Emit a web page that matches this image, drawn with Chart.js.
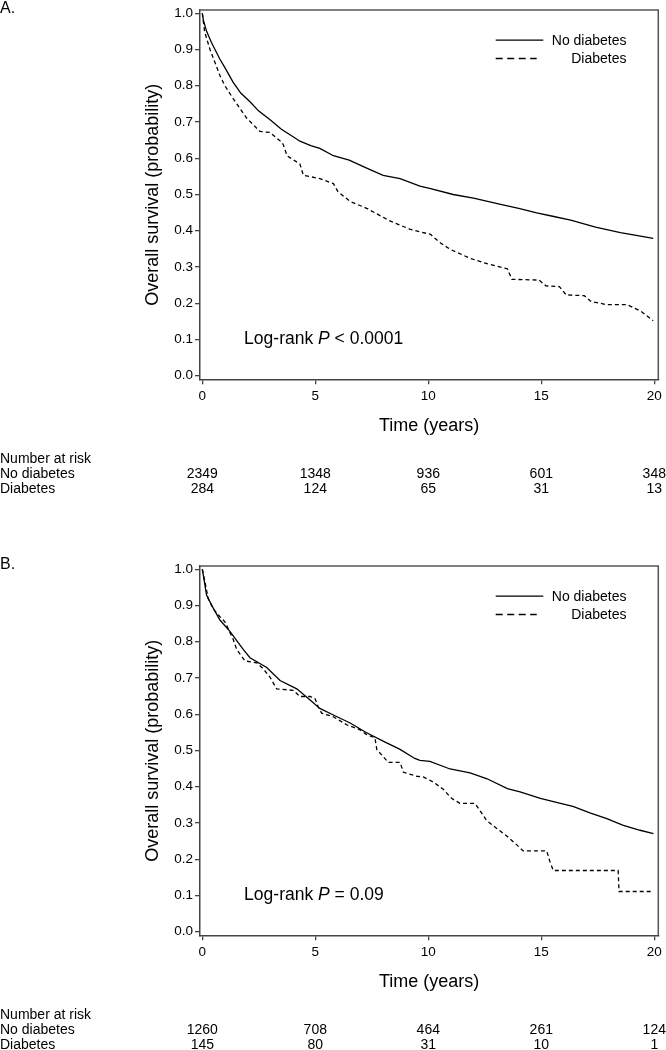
<!DOCTYPE html>
<html>
<head>
<meta charset="utf-8">
<script src="https://cdn.jsdelivr.net/npm/chart.js@4/dist/chart.umd.min.js"></script>
<style>
  html, body { margin: 0; padding: 0; background: #fff; }
  canvas { display: block; }
</style>
</head>
<body>
<canvas id="chartA" width="666" height="556"></canvas>
<canvas id="chartB" width="666" height="494"></canvas>
<script>
// axis ticks
const xTicks = [0, 5, 10, 15, 20];
const yTicks = [0, 0.1, 0.2, 0.3, 0.4, 0.5, 0.6, 0.7, 0.8, 0.9, 1.0];
const groups = ['No diabetes', 'Diabetes'];

// panel A curves
const timeNoDiabA = [0, 0.05, 0.19, 0.4, 0.78, 1.0, 1.36, 1.7, 2.11, 2.5, 3.0, 3.5, 4.0, 4.32, 4.8, 5.2, 5.8, 6.5, 7.2, 8.0, 8.75, 9.63, 10.1, 11.1, 12.0, 13.2, 14.0, 14.8, 15.5, 16.3, 17.4, 18.5, 19.2, 19.95];
const survNoDiabA = [1.0, 0.98, 0.95, 0.92, 0.873, 0.85, 0.81, 0.78, 0.756, 0.73, 0.706, 0.68, 0.66, 0.647, 0.635, 0.627, 0.607, 0.595, 0.575, 0.553, 0.544, 0.523, 0.516, 0.5, 0.49, 0.473, 0.462, 0.449, 0.44, 0.429, 0.41, 0.395, 0.387, 0.379];
const timeDiabA = [0, 0.1, 0.34, 0.78, 1.0, 1.36, 1.96, 2.55, 3.0, 3.5, 3.58, 3.75, 4.32, 4.47, 5.2, 5.8, 6.0, 6.54, 7.27, 8.3, 9.2, 10.1, 10.5, 10.96, 11.85, 12.6, 13.5, 13.7, 14.9, 15.2, 15.8, 16.1, 16.9, 17.2, 17.9, 18.8, 19.4, 19.95];
const survDiabA = [1.0, 0.95, 0.9, 0.828, 0.8, 0.765, 0.711, 0.674, 0.671, 0.645, 0.638, 0.607, 0.584, 0.553, 0.544, 0.53, 0.508, 0.481, 0.462, 0.427, 0.404, 0.39, 0.368, 0.349, 0.324, 0.309, 0.295, 0.266, 0.264, 0.248, 0.246, 0.223, 0.221, 0.205, 0.196, 0.196, 0.178, 0.152];

// panel B curves
const timeNoDiabB = [0, 0.05, 0.19, 0.49, 0.78, 1.23, 1.81, 2.11, 2.85, 3.44, 4.18, 4.77, 5.2, 5.8, 6.54, 7.27, 8.0, 8.75, 9.4, 9.63, 10.07, 10.96, 11.85, 12.6, 13.5, 14.06, 14.96, 15.85, 16.4, 17.15, 17.9, 18.6, 19.37, 19.96];
const survNoDiabB = [1.0, 0.982, 0.928, 0.892, 0.86, 0.828, 0.779, 0.756, 0.729, 0.693, 0.67, 0.639, 0.616, 0.598, 0.576, 0.549, 0.526, 0.503, 0.478, 0.473, 0.47, 0.449, 0.438, 0.422, 0.395, 0.386, 0.368, 0.354, 0.346, 0.328, 0.312, 0.294, 0.28, 0.271];
const timeDiabB = [0, 0.12, 0.26, 0.49, 0.78, 1.0, 1.37, 1.52, 1.89, 2.41, 2.7, 3.0, 3.29, 4.03, 4.32, 4.77, 4.99, 5.13, 5.28, 5.8, 6.39, 6.98, 7.27, 7.64, 7.72, 8.23, 8.75, 8.9, 9.49, 9.78, 10.22, 10.66, 11.03, 11.4, 12.07, 12.29, 12.58, 13.03, 13.47, 13.84, 14.2, 15.24, 15.38, 15.53, 18.4, 18.44, 19.96];
const survDiabB = [1.0, 0.964, 0.919, 0.89, 0.869, 0.855, 0.806, 0.779, 0.747, 0.742, 0.725, 0.702, 0.67, 0.666, 0.649, 0.649, 0.643, 0.62, 0.603, 0.593, 0.571, 0.557, 0.544, 0.535, 0.503, 0.467, 0.467, 0.44, 0.429, 0.427, 0.413, 0.393, 0.368, 0.354, 0.354, 0.334, 0.307, 0.285, 0.264, 0.244, 0.223, 0.223, 0.194, 0.169, 0.169, 0.111, 0.111];

// number at risk
const riskNoDiabA = [2349, 1348, 936, 601, 348];
const riskDiabA = [284, 124, 65, 31, 13];
const riskNoDiabB = [1260, 708, 464, 261, 124];
const riskDiabB = [145, 80, 31, 10, 1];

const logrankA = '< 0.0001';
const logrankB = '= 0.09';

const FONT = "'Liberation Sans', Arial, sans-serif";
Chart.defaults.font.family = FONT;
Chart.defaults.color = '#000';

function toPoints(t, s) {
    return t.map((v, i) => ({ x: v, y: s[i] }));
}

// legend, box, p-value text, risk table
const decor = {
    id: 'decor',
    afterDraw(chart, args, opts) {
        const ctx = chart.ctx;
        const a = chart.chartArea;
        const xs = chart.scales.x, ys = chart.scales.y;
        ctx.save();

        // top and right frame
        ctx.strokeStyle = '#555';
        ctx.lineWidth = 1.5;
        ctx.beginPath();
        ctx.moveTo(a.left, a.top);
        ctx.lineTo(a.right, a.top);
        ctx.lineTo(a.right, a.bottom);
        ctx.stroke();

        // panel label
        ctx.fillStyle = '#000';
        ctx.font = '16px ' + FONT;
        ctx.textAlign = 'left';
        ctx.textBaseline = 'middle';
        ctx.fillText(opts.panel, 0, 9);

        // legend
        ctx.font = '14px ' + FONT;
        ctx.textAlign = 'right';
        chart.data.datasets.forEach((ds, i) => {
            const y = a.top + 30 + i * 18.4;
            ctx.strokeStyle = '#000';
            ctx.lineWidth = 1.3;
            ctx.setLineDash(i === 0 ? [] : [7, 4.5]);
            ctx.beginPath();
            ctx.moveTo(495.7, y);
            ctx.lineTo(i === 0 ? 543.3 : 536.7, y);
            ctx.stroke();
            ctx.setLineDash([]);
            ctx.fillText(ds.label, a.right - 31.8, y + 1);
        });

        // log-rank text
        let tx = xs.getPixelForValue(1.85);
        const ty = ys.getPixelForValue(0.1);
        ctx.textAlign = 'left';
        const parts = [['Log-rank ', ''], ['P', 'italic '], [' ' + opts.pText, '']];
        parts.forEach(p => {
            ctx.font = p[1] + '17.5px ' + FONT;
            ctx.fillText(p[0], tx, ty);
            tx += ctx.measureText(p[0]).width;
        });

        // number at risk
        ctx.font = '14px ' + FONT;
        const r0 = a.bottom + 80;
        ctx.textAlign = 'left';
        ctx.fillText('Number at risk', 0, r0);
        ctx.fillText(groups[0], 0, r0 + 14.5);
        ctx.fillText(groups[1], 0, r0 + 30);
        ctx.textAlign = 'center';
        xTicks.forEach((t, i) => {
            const px = xs.getPixelForValue(t);
            ctx.fillText(String(opts.riskNo[i]), px, r0 + 14.5);
            ctx.fillText(String(opts.riskDi[i]), px, r0 + 30);
        });
        ctx.restore();
    }
};

function makeChart(id, panel, tNo, sNo, tDi, sDi, riskNo, riskDi, pText) {
    const canvas = document.getElementById(id);
    const padBottom = canvas.height - 379.3 - 60;
    return new Chart(canvas.getContext('2d'), {
        type: 'line',
        data: {
            datasets: [
                {
                    label: groups[0],
                    data: toPoints(tNo, sNo),
                    borderColor: '#000',
                    borderWidth: 1.3,
                    pointRadius: 0,
                    fill: false,
                    tension: 0
                },
                {
                    label: groups[1],
                    data: toPoints(tDi, sDi),
                    borderColor: '#000',
                    borderWidth: 1.3,
                    borderDash: [4, 3],
                    pointRadius: 0,
                    fill: false,
                    tension: 0
                }
            ]
        },
        options: {
            responsive: false,
            animation: false,
            layout: { padding: { top: 3.3, left: 0, right: 7.7, bottom: padBottom } },
            plugins: {
                legend: { display: false },
                tooltip: { enabled: false },
                decor: { panel: panel, riskNo: riskNo, riskDi: riskDi, pText: pText }
            },
            scales: {
                x: {
                    type: 'linear',
                    min: -0.102,
                    max: 20.177,
                    afterFit: s => { s.height = 60; },
                    afterBuildTicks: s => { s.ticks = xTicks.map(v => ({ value: v })); },
                    border: { display: true, color: '#444', width: 1.5 },
                    grid: { drawOnChartArea: false, drawTicks: true, tickLength: 5, color: '#444', lineWidth: 1.3 },
                    ticks: { font: { size: 13.5 }, padding: 3.5, maxRotation: 0, callback: v => String(v) },
                    title: { display: true, text: 'Time (years)', font: { size: 18 }, padding: { top: 0, bottom: 2.5 } }
                },
                y: {
                    type: 'linear',
                    min: -0.0098,
                    max: 1.0087,
                    afterFit: s => { s.width = 200; },
                    afterBuildTicks: s => { s.ticks = yTicks.map(v => ({ value: v })); },
                    border: { display: true, color: '#444', width: 1.5 },
                    grid: { drawOnChartArea: false, drawTicks: true, tickLength: 5, color: '#444', lineWidth: 1.3 },
                    ticks: { font: { size: 13.5 }, padding: 2, callback: v => Number(v).toFixed(1) },
                    title: { display: true, text: 'Overall survival (probability)', font: { size: 18 }, padding: { top: 142.2, bottom: 0 } }
                }
            }
        },
        plugins: [decor]
    });
}

makeChart('chartA', 'A.', timeNoDiabA, survNoDiabA, timeDiabA, survDiabA, riskNoDiabA, riskDiabA, logrankA);
makeChart('chartB', 'B.', timeNoDiabB, survNoDiabB, timeDiabB, survDiabB, riskNoDiabB, riskDiabB, logrankB);
</script>
</body>
</html>
